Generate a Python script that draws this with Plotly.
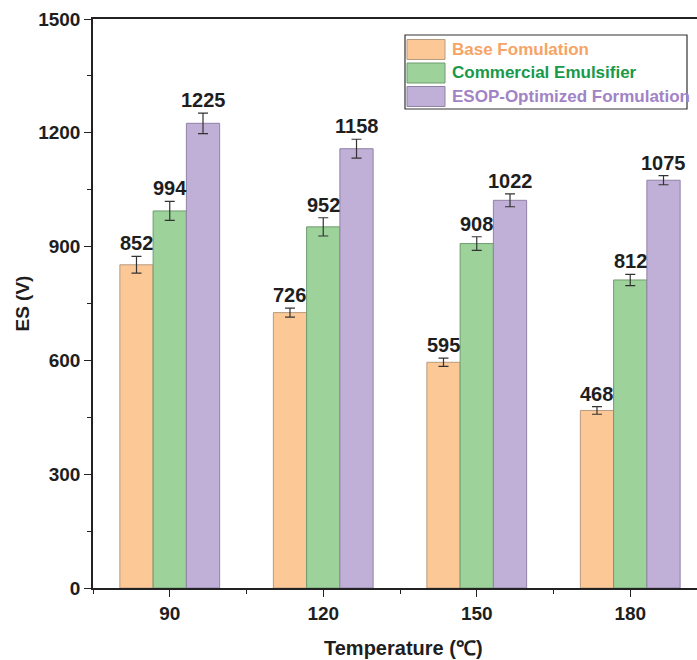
import plotly.graph_objects as go

# ---- data ----
temperatures = ["90", "120", "150", "180"]
series_names = ["Base Fomulation", "Commercial Emulsifier", "ESOP-Optimized Formulation"]
base_es = [852, 726, 595, 468]
commercial_es = [994, 952, 908, 812]
esop_es = [1225, 1158, 1022, 1075]
base_err = [22, 12, 11, 10]
commercial_err = [25, 24, 18, 15]
esop_err = [27, 25, 17, 12]
y_ticks = [0, 300, 600, 900, 1200, 1500]

fills = ["#FCC896", "#9DD29B", "#C0AFD6"]
outlines = ["#B89A80", "#6F9C6E", "#8F82A6"]
legend_text_colors = ["#F6A465", "#17994A", "#A183C6"]

values = [base_es, commercial_es, esop_es]
errors = [base_err, commercial_err, esop_err]

FONT = "Liberation Sans, Arial, sans-serif"
W, H = 697, 660
L, R, T, B = 93, 0, 19, 72
plot_w = W - L - R
plot_h = H - T - B


def px_x(px):
    return (px - L) / plot_w


def px_y(py):
    return (H - B - py) / plot_h


xpos = list(range(len(temperatures)))
group_width = 0.65
bar_w = group_width / len(series_names)

fig = go.Figure()
annotations = []
for i, name in enumerate(series_names):
    offset = -group_width / 2 + i * bar_w
    fig.add_trace(go.Bar(
        x=xpos,
        y=values[i],
        width=bar_w,
        offset=offset,
        name=name,
        showlegend=False,
        marker=dict(color=fills[i], line=dict(color=outlines[i], width=1)),
        error_y=dict(type="data", array=errors[i], visible=True,
                     color="#333333", thickness=1.2, width=5),
    ))
    for xv, v, e in zip(xpos, values[i], errors[i]):
        annotations.append(dict(
            x=xv + offset + bar_w / 2, y=v + e, xref="x", yref="y",
            text=str(v), showarrow=False, yanchor="bottom", xanchor="center",
            yshift=0,
            font=dict(family=FONT, size=20, color="#1E1E1E", weight="bold"),
        ))

# legend drawn as a framed box with wide swatches
shapes = [dict(type="rect", xref="paper", yref="paper",
               x0=px_x(405), x1=px_x(687), y0=px_y(109), y1=px_y(35),
               line=dict(color="#333333", width=1.2), fillcolor="white", layer="above")]
row_centers = [49.5, 73, 96.5]
for i, name in enumerate(series_names):
    cy = row_centers[i]
    shapes.append(dict(type="rect", xref="paper", yref="paper",
                       x0=px_x(407), x1=px_x(445), y0=px_y(cy + 10), y1=px_y(cy - 10),
                       fillcolor=fills[i], line=dict(color=outlines[i], width=1),
                       layer="above"))
    annotations.append(dict(
        x=px_x(450), y=px_y(cy), xref="paper", yref="paper", text=name,
        showarrow=False, xanchor="left", yanchor="middle",
        font=dict(family=FONT, size=17, color=legend_text_colors[i], weight="bold"),
    ))

# axis titles
annotations.append(dict(
    x=px_x(403), y=px_y(648), xref="paper", yref="paper", text="Temperature (℃)",
    showarrow=False, xanchor="center", yanchor="middle",
    font=dict(family=FONT, size=20, color="#1E1E1E", weight="bold"),
))
annotations.append(dict(
    x=px_x(22), y=0.5, xref="paper", yref="paper", text="ES (V)", textangle=-90,
    showarrow=False, xanchor="center", yanchor="middle",
    font=dict(family=FONT, size=19, color="#1E1E1E", weight="bold"),
))

fig.update_layout(
    width=W, height=H,
    margin=dict(l=L, r=R, t=T, b=B),
    paper_bgcolor="white", plot_bgcolor="white",
    barmode="overlay",
    showlegend=False,
    shapes=shapes,
    annotations=annotations,
    font=dict(family=FONT, color="#1E1E1E"),
)
fig.update_xaxes(
    range=[-0.5, -0.5 + plot_w / 153.5],
    tickmode="array", tickvals=xpos, ticktext=temperatures,
    ticks="outside", ticklen=7, tickwidth=1.2, tickcolor="#222222",
    tickfont=dict(family=FONT, size=19, color="#1E1E1E", weight="bold"),
    showline=True, linecolor="#222222", linewidth=1.5, mirror=True,
    showgrid=False, zeroline=False,
    minor=dict(tickmode="array", tickvals=[-0.5, 0.5, 1.5, 2.5, 3.5],
               ticks="outside", ticklen=4, tickwidth=1.2, tickcolor="#222222"),
)
fig.update_yaxes(
    range=[0, 1500],
    tickmode="array", tickvals=y_ticks,
    ticks="outside", ticklen=7, tickwidth=1.2, tickcolor="#222222",
    tickfont=dict(family=FONT, size=19, color="#1E1E1E", weight="bold"),
    showline=True, linecolor="#222222", linewidth=1.5, mirror=False,
    showgrid=False, zeroline=False,
    minor=dict(tickmode="array", tickvals=[150, 450, 750, 1050, 1350],
               ticks="outside", ticklen=4, tickwidth=1.2, tickcolor="#222222"),
)

fig.write_html("out.html")
